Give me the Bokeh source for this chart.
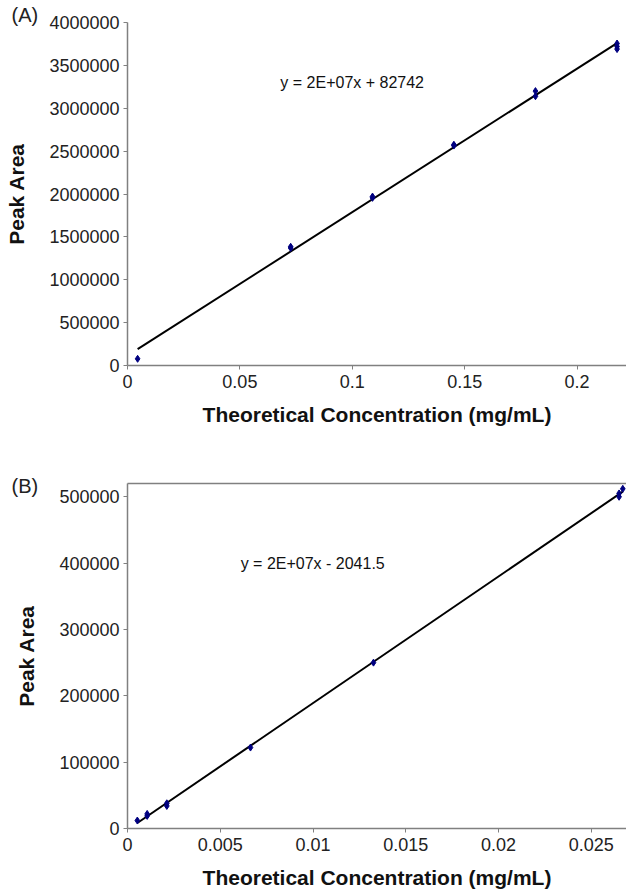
import numpy as np
from bokeh.plotting import figure
from bokeh.layouts import column
from bokeh.models import (Range1d, FixedTicker, CustomJSTickFormatter, Label,
                          LinearAxis, ColumnDataSource)
from bokeh.embed import file_html
from bokeh.resources import INLINE

# ---------------- data ----------------
conc_a = [0.0045, 0.0726, 0.0726, 0.109, 0.109, 0.1452, 0.1452,
          0.1815, 0.1815, 0.2178, 0.2178, 0.2178]
area_a = [78000, 1370000, 1385000, 1955000, 1970000, 2565000, 2575000,
          3140000, 3200000, 3690000, 3720000, 3755000]
xticks_a = [0, 0.05, 0.1, 0.15, 0.2]
yticks_a = [0, 500000, 1000000, 1500000, 2000000, 2500000, 3000000, 3500000, 4000000]
eq_a = "y = 2E+07x + 82742"

conc_b = [0.00053, 0.00106, 0.00106, 0.00212, 0.00212, 0.00663, 0.01326,
          0.0265, 0.0265, 0.0267]
area_b = [12000, 19000, 22000, 34000, 38000, 122000, 250000,
          500000, 505000, 512000]
xticks_b = [0, 0.005, 0.01, 0.015, 0.02, 0.025]
yticks_b = [0, 100000, 200000, 300000, 400000, 500000]
eq_b = "y = 2E+07x - 2041.5"

x_title = "Theoretical Concentration (mg/mL)"
y_title = "Peak Area"

FONT = "Liberation Sans"
AXIS_GREY = "#808080"
MARK = "#000080"


def panel(conc, area, xticks, yticks, xmax, ymax, tag, tag_standoff, eq, eq_x, eq_y,
          border_top, border_bottom, top_line):
    p = figure(width=626, height=446, x_range=Range1d(0, xmax),
               y_range=Range1d(0, ymax), output_backend="svg",
               toolbar_location=None, min_border_left=127, min_border_right=0,
               min_border_top=border_top, min_border_bottom=border_bottom)
    p.grid.visible = False
    p.outline_line_color = None
    p.background_fill_color = "white"
    p.border_fill_color = "white"

    fmt = CustomJSTickFormatter(code="return tick.toString();")
    p.xaxis.ticker = FixedTicker(ticks=xticks)
    p.yaxis.ticker = FixedTicker(ticks=yticks)
    p.xaxis.formatter = fmt
    p.yaxis.formatter = fmt
    p.xaxis.axis_label = x_title
    p.yaxis.axis_label = y_title
    for ax in (p.xaxis[0], p.yaxis[0]):
        ax.axis_line_color = AXIS_GREY
        ax.axis_line_width = 1.5
        ax.major_tick_line_color = AXIS_GREY
        ax.major_tick_out = 4
        ax.major_tick_in = 0
        ax.minor_tick_line_color = None
        ax.major_label_text_font = FONT
        ax.major_label_text_font_size = "18px"
        ax.major_label_text_color = "#222222"
        ax.axis_label_text_font = FONT
        ax.axis_label_text_font_size = "21px"
        ax.axis_label_text_font_style = "bold"
        ax.axis_label_text_color = "#111111"
    p.xaxis.major_label_standoff = 5
    p.yaxis.major_label_standoff = 4
    p.xaxis.axis_label_standoff = 12
    p.yaxis.axis_label_standoff = 18

    if top_line:
        top = LinearAxis(ticker=FixedTicker(ticks=[]), axis_line_color=AXIS_GREY,
                         axis_line_width=1.5, major_tick_line_color=None,
                         minor_tick_line_color=None,
                         major_label_text_font_size="0px")
        p.add_layout(top, "above")

    # panel tag as a left-aligned title level with the top tick
    p.title.text = tag
    p.title.align = "left"
    p.title.offset = -116
    p.title.vertical_align = "bottom"
    p.title.text_baseline = "middle"
    p.title.standoff = tag_standoff
    p.title.text_font = FONT
    p.title.text_font_size = "20px"
    p.title.text_font_style = "normal"
    p.title.text_color = "#222222"

    # trendline (least squares of the data)
    slope, icpt = np.polyfit(conc, area, 1)
    xs = [min(conc), max(conc)]
    ys = [slope * x + icpt for x in xs]
    p.line(xs, ys, line_color="black", line_width=2)

    src = ColumnDataSource(dict(x=conc, y=area))
    p.scatter("x", "y", source=src, marker="diamond", size=7,
              fill_color=MARK, line_color=MARK)

    p.add_layout(Label(x=eq_x, y=eq_y, text=eq, text_align="left",
                       text_baseline="middle", text_font=FONT,
                       text_font_size="16px", text_color="#111111"))
    return p


pA = panel(conc_a, area_a, xticks_a, yticks_a, 0.222, 4000000, "(A)", -6,
           eq_a, 0.068, 3300000, 22, 81, False)
pB = panel(conc_b, area_b, xticks_b, yticks_b, 0.0269, 520000, "(B)", -26,
           eq_b, 0.0061, 400000, 37, 64, True)

layout = column(pA, pB, spacing=0)
open("out.html", "w").write(file_html(layout, INLINE))
